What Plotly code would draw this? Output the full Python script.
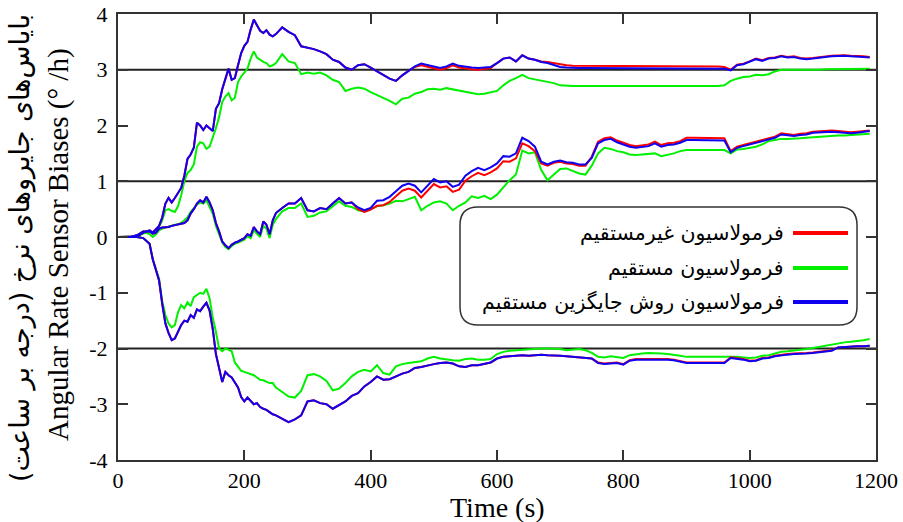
import plotly.graph_objects as go

# Sample times (s): 5 s spacing through the start-up transient, 10 s elsewhere
TIME = list(range(0, 50, 10)) + list(range(50, 250, 5)) + list(range(250, 1200, 10))

# True gyro biases (deg/h), drawn as reference lines
TRUE_BIAS = [3, 1, -2]

# ---- gyro axis 1 (true bias 3 deg/h) ----
GX_INDIRECT = [
    0, 0, 0, 0.01, 0.08, 0.12,
    0.08, 0.15, 0.2, 0.35, 0.6, 0.7, 0.62, 0.7, 0.8, 0.88,
    1.1, 1.4, 1.48, 1.6, 2.05, 2.0, 1.92, 2.0, 1.95, 1.9,
    2.3, 2.4, 2.65, 2.85, 3.02, 2.82, 2.85, 3.08, 3.3, 3.43,
    3.5, 3.72, 3.9, 3.8, 3.7, 3.66, 3.71, 3.63, 3.6, 3.64,
    3.76, 3.68, 3.62, 3.42, 3.4, 3.37, 3.33, 3.28, 3.18, 3.14,
    3.04, 3.0, 3.08, 3.1, 3.04, 2.97, 2.9, 2.84, 2.8, 2.9,
    2.98, 3.05, 3.08, 3.05, 3.02, 3.0, 3.03, 3.08, 3.04, 3.02,
    3.01, 3.0, 3.01, 3.03, 3.12, 3.2, 3.22, 3.15, 3.26, 3.2,
    3.18, 3.15, 3.14, 3.12, 3.09, 3.08, 3.07, 3.07, 3.07, 3.07,
    3.07, 3.07, 3.06, 3.07, 3.07, 3.06, 3.07, 3.07, 3.07, 3.06,
    3.07, 3.06, 3.06, 3.06, 3.06, 3.06, 3.06, 3.06, 3.06, 3.06,
    3.05, 3.0, 3.09, 3.11, 3.15, 3.2, 3.17, 3.21, 3.22, 3.25,
    3.23, 3.24, 3.21, 3.2, 3.21, 3.23, 3.24, 3.25, 3.26, 3.26,
    3.25, 3.25, 3.24, 3.23,
]
GX_DIRECT = [
    0, 0, 0, 0.01, 0.06, 0.1,
    0.08, 0.12, 0.18, 0.3, 0.48, 0.5, 0.47, 0.45, 0.55, 0.75,
    1.0, 1.15, 1.2, 1.3, 1.62, 1.7, 1.68, 1.58, 1.62, 1.78,
    1.95, 2.15, 2.42, 2.52, 2.58, 2.45, 2.5, 2.78, 2.88, 2.95,
    3.02, 3.2, 3.33, 3.22, 3.18, 3.14, 3.12, 3.06, 3.08, 3.12,
    3.28, 3.15, 3.12, 2.92, 2.95, 2.93, 2.95, 2.9, 2.82, 2.78,
    2.62, 2.66, 2.68, 2.66, 2.6, 2.55, 2.5, 2.44, 2.38, 2.48,
    2.5, 2.57, 2.6, 2.65, 2.66, 2.64, 2.67, 2.65, 2.63, 2.6,
    2.58, 2.56, 2.57, 2.6, 2.62, 2.72, 2.8, 2.85, 2.91, 2.85,
    2.83, 2.8, 2.79, 2.76, 2.72, 2.71, 2.71, 2.71, 2.71, 2.71,
    2.71, 2.71, 2.7, 2.71, 2.71, 2.7, 2.71, 2.71, 2.71, 2.7,
    2.71, 2.71, 2.7, 2.71, 2.71, 2.71, 2.7, 2.71, 2.71, 2.71,
    2.72, 2.8, 2.84, 2.87, 2.88, 2.91, 2.9, 2.92, 2.97, 3.0,
    3.0, 3.0, 2.99, 2.99, 3.0, 3.0, 3.01, 3.01, 3.01, 3.02,
    3.02, 3.02, 3.02, 3.02,
]
GX_ALTERNATIVE = [
    0, 0, 0, 0.01, 0.08, 0.12,
    0.08, 0.15, 0.2, 0.35, 0.6, 0.7, 0.62, 0.7, 0.8, 0.88,
    1.1, 1.4, 1.48, 1.6, 2.05, 2.0, 1.92, 2.0, 1.95, 1.9,
    2.3, 2.4, 2.65, 2.85, 3.02, 2.82, 2.85, 3.08, 3.3, 3.43,
    3.5, 3.72, 3.9, 3.8, 3.7, 3.66, 3.71, 3.63, 3.6, 3.64,
    3.76, 3.68, 3.62, 3.42, 3.4, 3.37, 3.33, 3.28, 3.18, 3.14,
    3.04, 3.0, 3.08, 3.1, 3.04, 2.97, 2.9, 2.84, 2.8, 2.9,
    2.98, 3.06, 3.11, 3.08, 3.05, 3.03, 3.06, 3.11, 3.07, 3.05,
    3.04, 3.03, 3.04, 3.05, 3.12, 3.2, 3.22, 3.15, 3.26, 3.2,
    3.18, 3.14, 3.12, 3.09, 3.05, 3.04, 3.03, 3.03, 3.03, 3.03,
    3.03, 3.03, 3.02, 3.03, 3.03, 3.02, 3.03, 3.03, 3.03, 3.02,
    3.03, 3.03, 3.02, 3.03, 3.03, 3.03, 3.02, 3.03, 3.03, 3.03,
    3.02, 2.99, 3.08, 3.1, 3.14, 3.19, 3.16, 3.2, 3.21, 3.24,
    3.22, 3.23, 3.2, 3.19, 3.2, 3.22, 3.23, 3.24, 3.25, 3.25,
    3.24, 3.24, 3.23, 3.22,
]

# ---- gyro axis 2 (true bias 1 deg/h) ----
GY_INDIRECT = [
    0, 0, 0, 0.03, 0.1, 0.1,
    0.06, 0.08, 0.15, 0.17, 0.17, 0.18, 0.2, 0.21, 0.22, 0.23,
    0.25, 0.3, 0.42, 0.5, 0.6, 0.66, 0.62, 0.72, 0.62, 0.48,
    0.25, 0.1, -0.08, -0.15, -0.2, -0.14, -0.1, -0.08, -0.05, -0.02,
    0.05, 0.02, 0.18, 0.1, 0.05, 0.28, 0.22, 0.05, 0.3, 0.43,
    0.52, 0.6, 0.6, 0.7, 0.48, 0.46, 0.52, 0.5, 0.6, 0.7,
    0.6, 0.62, 0.5, 0.45, 0.49, 0.56, 0.57, 0.63, 0.73, 0.83,
    0.87, 0.83, 0.71, 0.83, 0.95, 0.89, 0.91, 0.81, 0.85, 1.01,
    1.09, 1.15, 1.11, 1.16, 1.23, 1.36, 1.35, 1.41, 1.68, 1.63,
    1.54, 1.32, 1.28, 1.33, 1.35, 1.32, 1.31, 1.28, 1.28, 1.44,
    1.71, 1.77, 1.79, 1.73, 1.69, 1.65, 1.63, 1.65, 1.66, 1.71,
    1.65, 1.68, 1.69, 1.72, 1.78, 1.78, 1.78, 1.78, 1.78, 1.78,
    1.77, 1.54, 1.62, 1.65, 1.68, 1.71, 1.73, 1.76, 1.8, 1.86,
    1.84, 1.83, 1.85, 1.86, 1.89, 1.9, 1.91, 1.91, 1.9, 1.89,
    1.88, 1.89, 1.9, 1.91,
]
GY_DIRECT = [
    0, 0, 0, 0.03, 0.1, 0.05,
    0.0, 0.05, 0.12, 0.15, 0.17, 0.18, 0.2, 0.22, 0.23, 0.25,
    0.3, 0.35, 0.45, 0.52, 0.58, 0.62, 0.6, 0.66, 0.55, 0.42,
    0.2, 0.05, -0.1, -0.18, -0.22, -0.16, -0.12, -0.1, -0.08, -0.05,
    0.02, -0.02, 0.12, 0.05, 0.0, 0.2, 0.15, -0.02, 0.22, 0.32,
    0.46, 0.52, 0.52, 0.6, 0.36, 0.38, 0.44, 0.46, 0.55, 0.64,
    0.56, 0.54, 0.48, 0.46, 0.5, 0.55, 0.57, 0.6, 0.65, 0.64,
    0.68, 0.72, 0.48, 0.56, 0.62, 0.64, 0.6, 0.48, 0.56, 0.62,
    0.73, 0.7, 0.74, 0.68, 0.76, 0.9, 1.02, 1.12, 1.55, 1.5,
    1.52, 1.2, 1.02, 1.12, 1.22, 1.23, 1.18, 1.14, 1.12, 1.28,
    1.5, 1.6, 1.58, 1.54, 1.52, 1.48, 1.47, 1.48, 1.49, 1.5,
    1.45, 1.47, 1.5, 1.54, 1.56, 1.56, 1.56, 1.56, 1.56, 1.56,
    1.56, 1.5, 1.57, 1.58, 1.6, 1.62, 1.66, 1.72, 1.74, 1.76,
    1.76, 1.76, 1.77, 1.78, 1.79, 1.8, 1.81, 1.82, 1.82, 1.82,
    1.83, 1.83, 1.84, 1.85,
]
GY_ALTERNATIVE = [
    0, 0, 0, 0.03, 0.1, 0.1,
    0.06, 0.08, 0.15, 0.17, 0.17, 0.18, 0.2, 0.21, 0.22, 0.23,
    0.25, 0.3, 0.42, 0.5, 0.6, 0.66, 0.62, 0.72, 0.62, 0.48,
    0.25, 0.1, -0.08, -0.15, -0.2, -0.14, -0.1, -0.08, -0.05, -0.02,
    0.05, 0.02, 0.18, 0.1, 0.05, 0.28, 0.22, 0.05, 0.3, 0.43,
    0.52, 0.6, 0.6, 0.7, 0.48, 0.46, 0.52, 0.5, 0.6, 0.7,
    0.6, 0.62, 0.53, 0.48, 0.52, 0.65, 0.66, 0.72, 0.82, 0.92,
    0.96, 0.92, 0.8, 0.92, 1.04, 0.98, 1.0, 0.9, 0.94, 1.1,
    1.18, 1.24, 1.2, 1.25, 1.32, 1.45, 1.44, 1.5, 1.78, 1.72,
    1.62, 1.35, 1.3, 1.35, 1.37, 1.34, 1.33, 1.3, 1.3, 1.42,
    1.68, 1.74, 1.76, 1.7, 1.66, 1.62, 1.6, 1.62, 1.63, 1.68,
    1.62, 1.65, 1.66, 1.69, 1.74, 1.74, 1.74, 1.74, 1.74, 1.74,
    1.73, 1.52, 1.6, 1.63, 1.66, 1.69, 1.71, 1.74, 1.78, 1.84,
    1.82, 1.81, 1.83, 1.84, 1.87, 1.88, 1.89, 1.89, 1.88, 1.87,
    1.86, 1.87, 1.88, 1.9,
]

# ---- gyro axis 3 (true bias -2 deg/h) ----
GZ_INDIRECT = [
    0, 0, 0, 0, -0.02, -0.12,
    -0.4, -0.6, -0.78, -1.2, -1.55, -1.72, -1.85, -1.82, -1.7, -1.58,
    -1.5, -1.52, -1.4, -1.45, -1.3, -1.33, -1.25, -1.18, -1.32, -1.65,
    -2.1, -2.38, -2.6, -2.42, -2.48, -2.52, -2.6, -2.7, -2.87, -2.95,
    -2.88, -2.95, -3.0, -2.98, -3.05, -3.08, -3.1, -3.14, -3.18, -3.2,
    -3.26, -3.32, -3.27, -3.2, -2.95, -2.93, -2.98, -3.0, -3.08, -3.02,
    -2.95, -2.85, -2.8, -2.68, -2.6, -2.5, -2.56, -2.55, -2.5, -2.45,
    -2.42, -2.35, -2.33, -2.3, -2.28, -2.26, -2.25, -2.27, -2.32, -2.33,
    -2.3, -2.3, -2.27, -2.25, -2.18, -2.15, -2.14, -2.13, -2.12, -2.13,
    -2.12, -2.11, -2.12, -2.12, -2.13, -2.14, -2.15, -2.15, -2.16, -2.18,
    -2.25, -2.27, -2.26, -2.25, -2.28, -2.21, -2.19, -2.19, -2.18, -2.18,
    -2.19, -2.19, -2.2, -2.23, -2.25, -2.25, -2.25, -2.25, -2.25, -2.25,
    -2.25, -2.16, -2.17, -2.19, -2.22, -2.21, -2.17, -2.16, -2.13, -2.11,
    -2.1, -2.09, -2.09, -2.08, -2.07, -2.06, -2.05, -2.03, -1.98, -1.97,
    -1.97, -1.96, -1.96, -1.95,
]
GZ_DIRECT = [
    0, 0, 0, 0, -0.02, -0.12,
    -0.4, -0.58, -0.75, -1.15, -1.4, -1.55, -1.62, -1.58, -1.35, -1.22,
    -1.28, -1.17, -1.24, -1.08, -1.04, -1.0, -1.02, -0.93, -1.1, -1.45,
    -1.7, -2.0, -2.05, -2.0, -2.02, -2.05, -2.25, -2.33, -2.4, -2.42,
    -2.44, -2.45, -2.48, -2.52, -2.56, -2.57, -2.6, -2.62, -2.62, -2.7,
    -2.78, -2.86, -2.88, -2.76, -2.48, -2.46, -2.5, -2.58, -2.75, -2.72,
    -2.62, -2.5, -2.42, -2.38, -2.41, -2.3, -2.44, -2.47, -2.32, -2.28,
    -2.26, -2.25, -2.23, -2.18, -2.15, -2.18, -2.2, -2.21, -2.22, -2.19,
    -2.18, -2.2, -2.2, -2.19, -2.1, -2.06, -2.04, -2.03, -2.02, -2.02,
    -2.01, -2.0, -2.0, -2.0, -2.01, -2.03, -2.02, -2.01, -2.03, -2.08,
    -2.15, -2.16, -2.14, -2.16, -2.17, -2.12, -2.1, -2.09, -2.08, -2.08,
    -2.09, -2.1, -2.11, -2.13, -2.15, -2.15, -2.15, -2.15, -2.15, -2.15,
    -2.15, -2.14, -2.15, -2.16, -2.17, -2.16, -2.13, -2.12, -2.09, -2.06,
    -2.05, -2.04, -2.03, -2.01, -1.99, -1.97, -1.95, -1.93, -1.9, -1.89,
    -1.88, -1.87, -1.85, -1.83,
]
GZ_ALTERNATIVE = [
    0, 0, 0, 0, -0.02, -0.12,
    -0.4, -0.6, -0.78, -1.2, -1.55, -1.72, -1.85, -1.82, -1.7, -1.58,
    -1.5, -1.52, -1.4, -1.45, -1.3, -1.33, -1.25, -1.18, -1.32, -1.65,
    -2.1, -2.38, -2.6, -2.42, -2.48, -2.52, -2.6, -2.7, -2.87, -2.95,
    -2.88, -2.95, -3.0, -2.98, -3.05, -3.08, -3.1, -3.14, -3.18, -3.2,
    -3.26, -3.32, -3.27, -3.2, -2.95, -2.93, -2.98, -3.0, -3.08, -3.02,
    -2.95, -2.85, -2.8, -2.68, -2.6, -2.5, -2.56, -2.55, -2.5, -2.45,
    -2.42, -2.35, -2.33, -2.3, -2.28, -2.26, -2.25, -2.27, -2.32, -2.33,
    -2.3, -2.3, -2.27, -2.25, -2.18, -2.15, -2.14, -2.13, -2.12, -2.13,
    -2.12, -2.11, -2.12, -2.12, -2.13, -2.14, -2.15, -2.15, -2.16, -2.18,
    -2.26, -2.28, -2.27, -2.26, -2.29, -2.22, -2.2, -2.2, -2.19, -2.19,
    -2.2, -2.2, -2.21, -2.24, -2.26, -2.26, -2.26, -2.26, -2.26, -2.26,
    -2.26, -2.17, -2.18, -2.2, -2.23, -2.22, -2.18, -2.17, -2.14, -2.12,
    -2.11, -2.1, -2.1, -2.09, -2.08, -2.07, -2.06, -2.04, -1.98, -1.97,
    -1.97, -1.96, -1.96, -1.95,
]

X_TICKS = [0, 200, 400, 600, 800, 1000, 1200]
Y_TICKS = [-4, -3, -2, -1, 0, 1, 2, 3, 4]

METHOD_LABELS = [
    "فرمولاسیون غیرمستقیم",
    "فرمولاسیون مستقیم",
    "فرمولاسیون روش جایگزین مستقیم",
]
METHOD_COLORS = ["#ff0000", "#00f000", "#1000f0"]

X_TITLE = "Time (s)"
Y_TITLE_EN = "Angular Rate Sensor Biases (° /h)"
Y_TITLE_FA = "بایاس\u200cهای جایروهای نرخ (درجه بر ساعت)"

series = {
    0: [GX_INDIRECT, GY_INDIRECT, GZ_INDIRECT],
    1: [GX_DIRECT, GY_DIRECT, GZ_DIRECT],
    2: [GX_ALTERNATIVE, GY_ALTERNATIVE, GZ_ALTERNATIVE],
}
for group in series.values():
    for s in group:
        assert len(s) == len(TIME), (len(s), len(TIME))

FRAME = "#333333"
SERIF = "Liberation Serif"
SANS = "DejaVu Sans"

fig = go.Figure()

# direct (green) underneath, then indirect (red), then the alternative (blue) on top
for m in [1, 0, 2]:
    for k, ys in enumerate(series[m]):
        fig.add_trace(go.Scatter(
            x=TIME, y=ys, mode="lines",
            name=METHOD_LABELS[m], showlegend=False,
            line=dict(color=METHOD_COLORS[m], width=2),
        ))

for b in TRUE_BIAS:
    fig.add_hline(y=b, line=dict(color="#222222", width=2), layer="below")

# plot-area pixel geometry used for the hand-drawn legend box
L, R, T, B = 118, 27, 14, 62
W, H = 903, 522
PW, PH = W - L - R, H - T - B


def px(xp):
    return (xp - L) / PW


def py(yp):
    return (H - B - yp) / PH


bx0, bx1, by_top, by_bot = px(460), px(857), py(207), py(325)
rx, ry = 18 / PW, 18 / PH
path = (
    f"M {bx0 + rx},{by_top} L {bx1 - rx},{by_top} Q {bx1},{by_top} {bx1},{by_top - ry} "
    f"L {bx1},{by_bot + ry} Q {bx1},{by_bot} {bx1 - rx},{by_bot} "
    f"L {bx0 + rx},{by_bot} Q {bx0},{by_bot} {bx0},{by_bot + ry} "
    f"L {bx0},{by_top - ry} Q {bx0},{by_top} {bx0 + rx},{by_top} Z"
)
fig.add_shape(type="path", path=path, xref="paper", yref="paper",
              line=dict(color=FRAME, width=1.5), fillcolor="white", layer="above")

row_y = [233, 268, 302]
for m in range(3):
    yy = py(row_y[m])
    fig.add_shape(type="line", xref="paper", yref="paper",
                  x0=px(793), x1=px(848), y0=yy, y1=yy,
                  line=dict(color=METHOD_COLORS[m], width=4))
    fig.add_annotation(x=px(786), y=yy, xref="paper", yref="paper",
                       text=METHOD_LABELS[m], showarrow=False,
                       xanchor="right", yanchor="middle",
                       font=dict(family=SANS, size=20.5, color="black"))

fig.add_annotation(x=px(58), y=py(245), xref="paper", yref="paper",
                   text=Y_TITLE_EN, textangle=-90, showarrow=False,
                   xanchor="center", yanchor="middle",
                   font=dict(family=SERIF, size=29, color="black"))
fig.add_annotation(x=px(20), y=py(248), xref="paper", yref="paper",
                   text=Y_TITLE_FA, textangle=-90, showarrow=False,
                   xanchor="center", yanchor="middle",
                   font=dict(family=SANS, size=27, color="black"))
fig.add_annotation(x=px(497), y=py(507), xref="paper", yref="paper",
                   text=X_TITLE, showarrow=False,
                   xanchor="center", yanchor="middle",
                   font=dict(family=SERIF, size=28, color="black"))

axis_common = dict(
    showgrid=False, zeroline=False, automargin=False,
    showline=True, linecolor=FRAME, linewidth=2, mirror="ticks",
    ticks="inside", ticklen=10, tickwidth=1.5, tickcolor=FRAME,
    tickfont=dict(family=SERIF, size=22, color="black"),
)
fig.update_xaxes(range=[0, 1200], tickmode="array", tickvals=X_TICKS,
                 ticktext=[str(v) for v in X_TICKS], ticklabelstandoff=0,
                 **axis_common)
fig.update_yaxes(range=[-4, 4], tickmode="array", tickvals=Y_TICKS,
                 ticktext=[str(v) for v in Y_TICKS], ticklabelstandoff=4,
                 **axis_common)

fig.update_layout(
    width=W, height=H, autosize=False,
    margin=dict(l=L, r=R, t=T, b=B),
    paper_bgcolor="white", plot_bgcolor="white",
    showlegend=False,
)

fig.write_html("out.html")
